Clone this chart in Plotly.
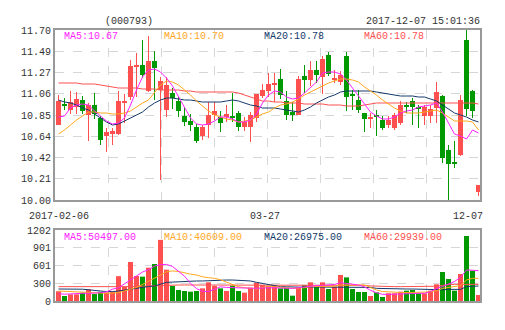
import plotly.graph_objects as go

# ---------------- data ----------------
opens = [10.75, 10.95, 10.90, 10.93, 11.00, 10.85, 10.95, 10.82, 10.64, 10.66,
         10.66, 10.97, 11.03, 11.33, 11.35, 11.09, 11.39, 11.10, 10.90, 11.07,
         10.99, 10.84, 10.79, 10.73, 10.64, 10.75, 10.85, 10.83, 10.83, 10.84,
         10.87, 10.73, 10.73, 10.82, 11.04, 11.09, 11.15, 11.21, 10.99, 10.88,
         10.85, 11.24, 11.20, 11.30, 11.23, 11.45, 11.20, 11.18, 11.44, 11.06,
         11.00, 10.87, 10.81, 10.84, 10.80, 10.75, 10.72, 10.77, 10.94, 10.99,
         10.92, 10.84, 10.84, 10.92, 11.04, 10.50, 10.38, 10.45, 11.60, 11.09,
         10.08]
closes = [10.99, 10.94, 10.98, 11.01, 10.89, 10.95, 10.86, 10.60, 10.68, 10.69,
          10.99, 10.99, 11.34, 11.34, 11.25, 11.39, 11.32, 11.19, 11.15, 11.02,
          10.89, 10.78, 10.75, 10.59, 10.73, 10.85, 10.89, 10.77, 10.86, 10.82,
          10.73, 10.78, 10.85, 11.06, 11.10, 11.16, 11.17, 11.05, 10.85, 10.85,
          11.21, 11.20, 11.30, 11.25, 11.41, 11.26, 11.22, 11.25, 11.03, 11.04,
          10.90, 10.81, 10.83, 10.83, 10.72, 10.80, 10.85, 10.95, 10.93, 10.93,
          10.91, 10.93, 10.91, 11.08, 10.42, 10.36, 10.36, 11.00, 10.91, 10.89,
          10.15]
highs = [11.05, 11.02, 11.09, 11.08, 11.04, 10.97, 11.07, 10.84, 10.72, 10.72,
         11.09, 11.06, 11.40, 11.47, 11.60, 11.64, 11.49, 11.23, 11.23, 11.12,
         11.03, 10.93, 10.86, 10.76, 10.75, 10.98, 10.98, 10.89, 10.95, 11.07,
         10.89, 10.83, 10.88, 11.06, 11.16, 11.27, 11.27, 11.31, 11.09, 10.98,
         11.24, 11.35, 11.39, 11.39, 11.44, 11.48, 11.30, 11.29, 11.48, 11.10,
         11.10, 10.87, 10.87, 10.90, 10.84, 10.84, 10.87, 10.99, 10.98, 11.02,
         10.95, 10.95, 10.95, 11.18, 11.05, 10.55, 10.59, 11.05, 11.70, 11.10,
         10.15]
lows = [10.75, 10.90, 10.86, 10.86, 10.86, 10.59, 10.81, 10.55, 10.48, 10.55,
        10.65, 10.77, 11.00, 11.03, 11.22, 11.08, 11.00, 10.20, 10.83, 10.91,
        10.83, 10.74, 10.69, 10.57, 10.60, 10.62, 10.80, 10.68, 10.78, 10.78,
        10.69, 10.69, 10.58, 10.78, 11.02, 11.03, 10.98, 11.01, 10.80, 10.79,
        10.85, 11.07, 11.14, 11.17, 11.06, 11.24, 11.17, 11.15, 10.89, 10.90,
        10.87, 10.68, 10.72, 10.64, 10.70, 10.72, 10.70, 10.75, 10.87, 10.75,
        10.72, 10.75, 10.77, 10.77, 10.37, 10.00, 10.32, 10.44, 10.84, 10.82,
        10.04]

ma5 = [10.83, 10.84, 10.92, 10.95, 10.96, 10.95, 10.89, 10.84, 10.79, 10.76,
       10.77, 10.82, 10.95, 11.10, 11.23, 11.30, 11.31, 11.28, 11.22, 11.14,
       11.03, 10.93, 10.82, 10.76, 10.75, 10.76, 10.79, 10.83, 10.83, 10.81,
       10.78, 10.78, 10.80, 10.86, 10.97, 11.05, 11.09, 11.08, 11.03, 11.01,
       11.02, 11.07, 11.13, 11.18, 11.27, 11.28, 11.28, 11.26, 11.20, 11.12,
       11.04, 10.95, 10.88, 10.84, 10.81, 10.81, 10.83, 10.87, 10.89, 10.90,
       10.93, 10.94, 10.95, 10.97, 10.88, 10.77, 10.66, 10.64, 10.61, 10.70,
       10.67]
ma10 = [10.66, 10.70, 10.75, 10.80, 10.84, 10.88, 10.88, 10.87, 10.87, 10.86,
        10.86, 10.87, 10.89, 10.93, 10.97, 11.00, 11.07, 11.15, 11.19, 11.18,
        11.15, 11.10, 11.05, 10.99, 10.94, 10.89, 10.85, 10.83, 10.81, 10.80,
        10.78, 10.79, 10.80, 10.83, 10.86, 10.88, 10.92, 10.95, 10.96, 10.98,
        11.01, 11.05, 11.08, 11.11, 11.14, 11.17, 11.19, 11.21, 11.21, 11.20,
        11.18, 11.13, 11.09, 11.05, 11.00, 10.96, 10.92, 10.89, 10.87, 10.87,
        10.87, 10.88, 10.89, 10.90, 10.87, 10.83, 10.79, 10.79, 10.79, 10.78,
        10.70]
ma20 = [11.00, 10.98, 10.97, 10.95, 10.92, 10.90, 10.86, 10.82, 10.78, 10.75,
        10.76, 10.79, 10.82, 10.85, 10.88, 10.93, 10.97, 11.00, 11.02, 11.02,
        11.01, 11.00, 11.00, 10.99, 10.98, 10.98, 10.98, 10.98, 10.99, 11.00,
        10.99, 10.97, 10.95, 10.94, 10.92, 10.92, 10.92, 10.91, 10.90, 10.89,
        10.88, 10.90, 10.93, 10.97, 11.00, 11.03, 11.05, 11.08, 11.09, 11.09,
        11.09, 11.09, 11.09, 11.08, 11.07, 11.06, 11.05, 11.04, 11.04, 11.04,
        11.03, 11.03, 11.01, 10.99, 10.95, 10.91, 10.87, 10.85, 10.83, 10.80,
        10.78]
ma60 = [11.17, 11.17, 11.17, 11.17, 11.16, 11.16, 11.16, 11.15, 11.14, 11.13,
        11.12, 11.12, 11.12, 11.12, 11.11, 11.11, 11.11, 11.10, 11.10, 11.10,
        11.10, 11.09, 11.09, 11.08, 11.08, 11.08, 11.08, 11.08, 11.08, 11.08,
        11.07, 11.05, 11.03, 11.01, 10.99, 10.99, 10.98, 10.98, 10.97, 10.97,
        10.97, 10.96, 10.96, 10.96, 10.96, 10.95, 10.95, 10.95, 10.94, 10.94,
        10.94, 10.95, 10.96, 10.97, 10.97, 10.97, 10.97, 10.97, 10.97, 10.97,
        10.97, 10.97, 10.97, 10.97, 10.97, 10.97, 10.97, 10.97, 10.97, 10.97,
        10.96]

volumes = [165, 85, 113, 113, 141, 200, 118, 155, 145, 160,
           420, 243, 660, 423, 412, 564, 626, 1035, 530, 254,
           186, 169, 158, 169, 214, 316, 254, 214, 169, 260,
           169, 141, 226, 310, 271, 254, 254, 214, 226, 90,
           226, 271, 316, 243, 316, 203, 243, 440, 400, 203,
           152, 152, 85, 147, 68, 130, 130, 158, 175, 186,
           130, 130, 175, 282, 491, 372, 175, 457, 1100, 514,
           102]
vma5 = [125, 115, 120, 130, 130, 130, 130, 140, 155, 200,
        225, 290, 360, 430, 490, 530, 590, 615, 620, 585,
        510, 420, 300, 210, 165, 160, 200, 240, 230, 226,
        214, 210, 214, 214, 220, 225, 225, 220, 214, 214,
        225, 240, 255, 260, 265, 270, 280, 310, 300, 285,
        271, 240, 180, 140, 113, 113, 113, 113, 118, 125,
        130, 130, 160, 210, 245, 290, 330, 400, 525, 520,
        514]
vma10 = [169, 165, 160, 158, 158, 155, 150, 135, 130, 135,
         141, 170, 200, 230, 280, 330, 380, 440, 495, 508,
         500, 475, 455, 440, 410, 395, 384, 360, 320, 280,
         240, 226, 215, 205, 230, 243, 243, 240, 225, 214,
         214, 225, 243, 243, 243, 243, 250, 271, 271, 271,
         271, 271, 230, 186, 160, 158, 150, 141, 141, 141,
         141, 150, 158, 175, 214, 230, 243, 260, 355, 384,
         384]
vma20 = [203, 203, 203, 203, 200, 190, 175, 169, 160, 158,
         170, 186, 200, 220, 231, 245, 254, 290, 316, 320,
         327, 330, 333, 339, 339, 345, 350, 355, 355, 355,
         350, 345, 339, 316, 300, 282, 260, 243, 240, 235,
         231, 233, 237, 237, 237, 237, 237, 237, 237, 237,
         237, 237, 230, 214, 210, 205, 203, 203, 203, 203,
         200, 197, 190, 186, 190, 197, 197, 197, 243, 254,
         254]
vma60 = [243, 243, 243, 240, 235, 231, 231, 231, 231, 240,
         243, 243, 243, 243, 250, 255, 260, 262, 265, 268,
         271, 271, 271, 271, 271, 271, 271, 271, 271, 271,
         271, 271, 271, 271, 271, 271, 271, 271, 271, 271,
         271, 271, 271, 271, 271, 271, 271, 271, 271, 271,
         271, 265, 255, 250, 243, 243, 243, 243, 243, 243,
         243, 243, 243, 250, 265, 275, 282, 282, 282, 282,
         282]

price_ticks = [10.00, 10.2125, 10.425, 10.6375, 10.85, 11.0625, 11.275, 11.4875, 11.70]
price_tick_text = ["10.00", "10.21", "10.42", "10.64", "10.85", "11.06", "11.27", "11.49", "11.70"]
vol_ticks = [0, 300.5, 601, 901.5, 1202]
vol_tick_text = ["0", "300", "601", "901", "1202"]
date_labels = ["2017-02-06", "03-27", "12-07"]
title_code = "(000793)"
title_time = "2017-12-07 15:01:36"
price_ma_text = ["MA5:10.67", "MA10:10.70", "MA20:10.78", "MA60:10.78"]
vol_ma_text = ["MA5:50497.00", "MA10:40609.00", "MA20:26975.00", "MA60:29939.00"]

# ---------------- styling ----------------
RED, GREEN = "#ff5050", "#009900"
C_MA5, C_MA10, C_MA20, C_MA60 = "#ff22ff", "#ffa81e", "#143a6b", "#ff5050"
FONT = "Liberation Mono"
GRID = "#d6d6d6"
BORDER = "#999999"

n = len(closes)
idx = list(range(n))
up = [c >= o for o, c in zip(opens, closes)]
colors = [RED if u else GREEN for u in up]

fig = go.Figure()

# wicks
for color, flag in ((RED, True), (GREEN, False)):
    xs, ys = [], []
    for i in idx:
        if up[i] == flag:
            xs += [i, i, None]
            ys += [lows[i], highs[i], None]
    fig.add_trace(go.Scatter(x=xs, y=ys, mode="lines", line=dict(color=color, width=1),
                             hoverinfo="skip", xaxis="x", yaxis="y"))

# bodies
bases = [min(o, c) for o, c in zip(opens, closes)]
heights = [max(abs(c - o), 0.015) for o, c in zip(opens, closes)]
fig.add_trace(go.Bar(x=idx, y=heights, base=bases, width=0.84,
                     marker=dict(color=colors, line=dict(width=0)), xaxis="x", yaxis="y"))

# price MAs
for arr, col in ((ma60, C_MA60), (ma20, C_MA20), (ma10, C_MA10), (ma5, C_MA5)):
    fig.add_trace(go.Scatter(x=idx, y=arr, mode="lines", line=dict(color=col, width=1),
                             xaxis="x", yaxis="y"))

# volume
fig.add_trace(go.Bar(x=idx, y=volumes, width=0.84,
                     marker=dict(color=colors, line=dict(width=0)), xaxis="x2", yaxis="y2"))
for arr, col in ((vma60, C_MA60), (vma20, C_MA20), (vma10, C_MA10), (vma5, C_MA5)):
    fig.add_trace(go.Scatter(x=idx, y=arr, mode="lines", line=dict(color=col, width=1),
                             xaxis="x2", yaxis="y2"))

# geometry (pixels)
L, R, T, B = 55, 480, 30, 301
MAIN_BOTTOM, VOL_TOP = 200, 230
PW, PH = R - L, B - T
xr = [-0.5833, 70.25]
xgrid = [xr[0] + k * (xr[1] - xr[0]) / 8 for k in range(1, 8)]

axis_common = dict(showline=True, mirror=True, linecolor=BORDER, linewidth=2,
                   zeroline=False, showgrid=True, gridcolor=GRID, griddash="dash", gridwidth=1,
                   ticks="", tickfont=dict(family=FONT, size=10, color="#333333"))

fig.update_layout(
    width=505, height=330,
    margin=dict(l=L, r=505 - R, t=T, b=330 - B, pad=0),
    paper_bgcolor="white", plot_bgcolor="white",
    showlegend=False, barmode="overlay",
    xaxis=dict(domain=[0, 1], range=xr, anchor="y", tickvals=xgrid, showticklabels=False, **axis_common),
    xaxis2=dict(domain=[0, 1], range=xr, anchor="y2", tickvals=xgrid, showticklabels=False, **axis_common),
    yaxis=dict(domain=[(B - MAIN_BOTTOM) / PH, 1], range=[10.0, 11.70], anchor="x",
               tickvals=price_ticks, ticktext=price_tick_text, **axis_common),
    yaxis2=dict(domain=[0, (B - VOL_TOP) / PH], range=[0, 1202], anchor="x2",
                tickvals=vol_ticks, ticktext=vol_tick_text, **axis_common),
)


def ann(text, X, Y, color, xanchor="left"):
    fig.add_annotation(text=text, x=(X - L) / PW, y=(B - Y) / PH, xref="paper", yref="paper",
                       xanchor=xanchor, yanchor="middle", showarrow=False, borderpad=0,
                       font=dict(family=FONT, size=10, color=color))


ann(title_code, 104, 22, "#333333")
ann(title_time, 481, 22, "#333333", xanchor="right")
ma_cols = [C_MA5, C_MA10, C_MA20, C_MA60]
for k, (t1, t2, c) in enumerate(zip(price_ma_text, vol_ma_text, ma_cols)):
    ann(t1, 63 + 100 * k, 37, c)
    ann(t2, 63 + 100 * k, 237, c)
ann(date_labels[0], 59, 216, "#333333", xanchor="center")
ann(date_labels[1], 265, 216, "#333333", xanchor="center")
ann(date_labels[2], 484, 216, "#333333", xanchor="right")

fig.write_html("out.html")
